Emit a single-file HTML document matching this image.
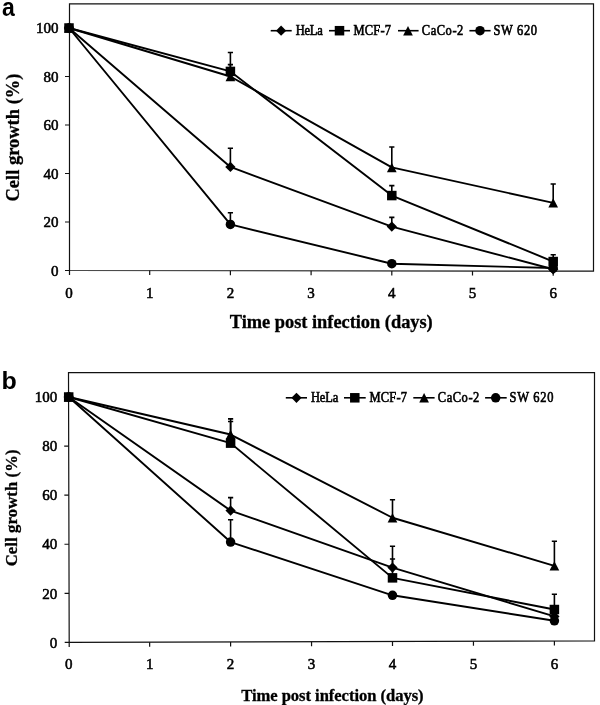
<!DOCTYPE html>
<html><head><meta charset="utf-8"><style>
html,body{margin:0;padding:0;background:#fff;}
body{width:600px;height:705px;overflow:hidden;}
svg{display:block;filter:grayscale(1);}
.t{font-family:"Liberation Serif",serif;stroke:#000;stroke-width:0.55px;}
.b{font-family:"Liberation Serif",serif;font-weight:bold;stroke:#000;stroke-width:0.3px;}
.s{font-family:"Liberation Sans",sans-serif;font-weight:bold;}
</style></head><body>
<svg width="600" height="705" viewBox="0 0 600 705">
<rect width="600" height="705" fill="#fff"/>
<g fill="#000">
<path d="M69.50 3.90L593.50 3.90L593.50 271.20L69.50 270.50Z" fill="none" stroke="#111" stroke-width="1.2" stroke-linejoin="miter"/>
<path d="M65.00 270.50H69.50M65.00 222.00H69.50M65.00 173.50H69.50M65.00 125.00H69.50M65.00 76.50H69.50M65.00 28.00H69.50M69.50 270.50V275.00M149.70 270.61V275.11M230.40 270.71V275.21M311.10 270.82V275.32M391.80 270.93V275.43M472.50 271.04V275.54M553.20 271.15V275.65" stroke="#111" stroke-width="1.2"/>
<text x="58.50" y="275.70" text-anchor="end" class="t" font-size="15">0</text>
<text x="58.50" y="227.20" text-anchor="end" class="t" font-size="15">20</text>
<text x="58.50" y="178.70" text-anchor="end" class="t" font-size="15">40</text>
<text x="58.50" y="130.20" text-anchor="end" class="t" font-size="15">60</text>
<text x="58.50" y="81.70" text-anchor="end" class="t" font-size="15">80</text>
<text x="58.50" y="33.20" text-anchor="end" class="t" font-size="15">100</text>
<text x="69.00" y="298.00" text-anchor="middle" class="t" font-size="15">0</text>
<text x="149.70" y="298.00" text-anchor="middle" class="t" font-size="15">1</text>
<text x="230.40" y="298.00" text-anchor="middle" class="t" font-size="15">2</text>
<text x="311.10" y="298.00" text-anchor="middle" class="t" font-size="15">3</text>
<text x="391.80" y="298.00" text-anchor="middle" class="t" font-size="15">4</text>
<text x="472.50" y="298.00" text-anchor="middle" class="t" font-size="15">5</text>
<text x="553.20" y="298.00" text-anchor="middle" class="t" font-size="15">6</text>
<text x="229.75" y="327.70" class="b" font-size="18.4" letter-spacing="-0.020">Time post infection (days)</text>
<text transform="translate(18.60 201.50) rotate(-90)" class="b" font-size="18.4" letter-spacing="0.036">Cell growth (%)</text>
<text transform="translate(1.9 16) scale(0.92 1)" class="s" font-size="25">a</text>
<path d="M69.00 28.00L230.40 166.95L391.80 226.61L553.20 269.29" fill="none" stroke="#000" stroke-width="1.9" stroke-linejoin="round"/>
<path d="M230.40 166.95V148.28M227.80 148.28H233.00M391.80 226.61V217.39M389.20 217.39H394.40" fill="none" stroke="#000" stroke-width="1.6"/>
<path d="M69.00 28.00L230.40 71.41L391.80 195.57L553.20 261.53" fill="none" stroke="#000" stroke-width="1.9" stroke-linejoin="round"/>
<path d="M230.40 71.41V52.49M227.80 52.49H233.00M391.80 195.57V185.62M389.20 185.62H394.40M553.20 261.53V254.74M550.60 254.74H555.80" fill="none" stroke="#000" stroke-width="1.6"/>
<path d="M69.00 28.00L230.40 76.50L391.80 167.44L553.20 202.84" fill="none" stroke="#000" stroke-width="1.9" stroke-linejoin="round"/>
<path d="M230.40 76.50V64.62M227.80 64.62H233.00M391.80 167.44V147.07M389.20 147.07H394.40M553.20 202.84V183.93M550.60 183.93H555.80" fill="none" stroke="#000" stroke-width="1.6"/>
<path d="M69.00 28.00L230.40 224.43L391.80 263.71L553.20 268.07" fill="none" stroke="#000" stroke-width="1.9" stroke-linejoin="round"/>
<path d="M230.40 224.43V212.78M227.80 212.78H233.00" fill="none" stroke="#000" stroke-width="1.6"/>
<path d="M69.00 22.87L74.13 28.00L69.00 33.13L63.87 28.00Z"/>
<path d="M230.40 161.82L235.53 166.95L230.40 172.08L225.27 166.95Z"/>
<path d="M391.80 221.48L396.93 226.61L391.80 231.74L386.67 226.61Z"/>
<path d="M553.20 264.16L558.33 269.29L553.20 274.42L548.07 269.29Z"/>
<rect x="64.25" y="23.25" width="9.50" height="9.50"/>
<rect x="225.65" y="66.66" width="9.50" height="9.50"/>
<rect x="387.05" y="190.82" width="9.50" height="9.50"/>
<rect x="548.45" y="256.78" width="9.50" height="9.50"/>
<path d="M69.00 23.30L73.85 32.70L64.15 32.70Z"/>
<path d="M230.40 71.80L235.25 81.20L225.55 81.20Z"/>
<path d="M391.80 162.74L396.65 172.14L386.95 172.14Z"/>
<path d="M553.20 198.14L558.05 207.54L548.35 207.54Z"/>
<circle cx="69.00" cy="28.00" r="4.75"/>
<circle cx="230.40" cy="224.43" r="4.75"/>
<circle cx="391.80" cy="263.71" r="4.75"/>
<circle cx="553.20" cy="268.07" r="4.75"/>
<path d="M270.70 30.70H291.70" stroke="#000" stroke-width="1.6"/>
<path d="M281.10 25.57L286.23 30.70L281.10 35.83L275.97 30.70Z"/>
<text transform="translate(295.70 35.00) scale(1 1.1)" class="t" font-size="12.5" letter-spacing="-0.250">HeLa</text>
<path d="M329.00 30.70H350.00" stroke="#000" stroke-width="1.6"/>
<rect x="334.75" y="25.95" width="9.50" height="9.50"/>
<text transform="translate(353.60 35.00) scale(1 1.1)" class="t" font-size="12.5" letter-spacing="0.162">MCF-7</text>
<path d="M398.00 30.70H418.60" stroke="#000" stroke-width="1.6"/>
<path d="M408.00 26.00L412.85 35.40L403.15 35.40Z"/>
<text transform="translate(421.75 35.00) scale(1 1.1)" class="t" font-size="12.5" letter-spacing="0.550">CaCo-2</text>
<path d="M469.40 30.70H490.60" stroke="#000" stroke-width="1.6"/>
<circle cx="480.00" cy="30.70" r="4.75"/>
<text transform="translate(493.50 35.00) scale(1 1.1)" class="t" font-size="12.5" letter-spacing="0.650">SW 620</text>
<path d="M68.50 372.60L594.50 372.60L594.50 640.90L69.20 642.40Z" fill="none" stroke="#111" stroke-width="1.2" stroke-linejoin="miter"/>
<path d="M64.70 642.40H69.20M64.57 593.32H69.07M64.45 544.24H68.95M64.32 495.16H68.82M64.19 446.08H68.69M64.06 397.00H68.56M69.20 642.40V646.90M149.65 642.17V646.67M230.60 641.94V646.44M311.55 641.71V646.21M392.50 641.48V645.98M473.45 641.25V645.75M554.40 641.01V645.51" stroke="#111" stroke-width="1.2"/>
<text x="57.30" y="647.60" text-anchor="end" class="t" font-size="15">0</text>
<text x="57.30" y="598.52" text-anchor="end" class="t" font-size="15">20</text>
<text x="57.30" y="549.44" text-anchor="end" class="t" font-size="15">40</text>
<text x="57.30" y="500.36" text-anchor="end" class="t" font-size="15">60</text>
<text x="57.30" y="451.28" text-anchor="end" class="t" font-size="15">80</text>
<text x="57.30" y="402.20" text-anchor="end" class="t" font-size="15">100</text>
<text x="68.70" y="669.30" text-anchor="middle" class="t" font-size="15">0</text>
<text x="149.65" y="669.30" text-anchor="middle" class="t" font-size="15">1</text>
<text x="230.60" y="669.30" text-anchor="middle" class="t" font-size="15">2</text>
<text x="311.55" y="669.30" text-anchor="middle" class="t" font-size="15">3</text>
<text x="392.50" y="669.30" text-anchor="middle" class="t" font-size="15">4</text>
<text x="473.45" y="669.30" text-anchor="middle" class="t" font-size="15">5</text>
<text x="554.40" y="669.30" text-anchor="middle" class="t" font-size="15">6</text>
<text x="241.20" y="700.50" class="b" font-size="16.6" letter-spacing="-0.048">Time post infection (days)</text>
<text transform="translate(17.10 566.25) rotate(-90)" class="b" font-size="16.6" letter-spacing="0.125">Cell growth (%)</text>
<text transform="translate(1.5 389.4) scale(1 0.965)" class="s" font-size="25">b</text>
<path d="M68.70 397.00L230.60 510.62L392.50 567.55L554.40 616.39" fill="none" stroke="#000" stroke-width="1.9" stroke-linejoin="round"/>
<path d="M230.60 510.62V497.61M228.00 497.61H233.20M392.50 567.55V546.20M389.90 546.20H395.10" fill="none" stroke="#000" stroke-width="1.6"/>
<path d="M68.70 397.00L230.60 443.14L392.50 577.86L554.40 609.52" fill="none" stroke="#000" stroke-width="1.9" stroke-linejoin="round"/>
<path d="M230.60 443.14V418.84M228.00 418.84H233.20M392.50 577.86V558.96M389.90 558.96H395.10M554.40 609.52V594.30M551.80 594.30H557.00" fill="none" stroke="#000" stroke-width="1.6"/>
<path d="M68.70 397.00L230.60 434.55L392.50 517.74L554.40 565.84" fill="none" stroke="#000" stroke-width="1.9" stroke-linejoin="round"/>
<path d="M230.60 434.55V421.54M228.00 421.54H233.20M392.50 517.74V499.82M389.90 499.82H395.10M554.40 565.84V541.30M551.80 541.30H557.00" fill="none" stroke="#000" stroke-width="1.6"/>
<path d="M68.70 397.00L230.60 542.03L392.50 595.28L554.40 620.80" fill="none" stroke="#000" stroke-width="1.9" stroke-linejoin="round"/>
<path d="M230.60 542.03V519.70M228.00 519.70H233.20" fill="none" stroke="#000" stroke-width="1.6"/>
<path d="M68.70 391.87L73.83 397.00L68.70 402.13L63.57 397.00Z"/>
<path d="M230.60 505.49L235.73 510.62L230.60 515.75L225.47 510.62Z"/>
<path d="M392.50 562.42L397.63 567.55L392.50 572.68L387.37 567.55Z"/>
<path d="M554.40 611.26L559.53 616.39L554.40 621.52L549.27 616.39Z"/>
<rect x="63.95" y="392.25" width="9.50" height="9.50"/>
<rect x="225.85" y="438.39" width="9.50" height="9.50"/>
<rect x="387.75" y="573.11" width="9.50" height="9.50"/>
<rect x="549.65" y="604.77" width="9.50" height="9.50"/>
<path d="M68.70 392.30L73.55 401.70L63.85 401.70Z"/>
<path d="M230.60 429.85L235.45 439.25L225.75 439.25Z"/>
<path d="M392.50 513.04L397.35 522.44L387.65 522.44Z"/>
<path d="M554.40 561.14L559.25 570.54L549.55 570.54Z"/>
<circle cx="68.70" cy="397.00" r="4.75"/>
<circle cx="230.60" cy="542.03" r="4.75"/>
<circle cx="392.50" cy="595.28" r="4.75"/>
<circle cx="554.40" cy="620.80" r="4.75"/>
<path d="M285.80 397.80H307.00" stroke="#000" stroke-width="1.6"/>
<path d="M296.50 392.67L301.63 397.80L296.50 402.93L291.37 397.80Z"/>
<text transform="translate(311.00 402.10) scale(1 1.1)" class="t" font-size="12.5" letter-spacing="-0.150">HeLa</text>
<path d="M344.00 397.80H365.70" stroke="#000" stroke-width="1.6"/>
<rect x="350.05" y="393.05" width="9.50" height="9.50"/>
<text transform="translate(369.40 402.10) scale(1 1.1)" class="t" font-size="12.5" letter-spacing="0.213">MCF-7</text>
<path d="M413.30 397.80H434.60" stroke="#000" stroke-width="1.6"/>
<path d="M424.10 393.10L428.95 402.50L419.25 402.50Z"/>
<text transform="translate(437.75 402.10) scale(1 1.1)" class="t" font-size="12.5" letter-spacing="0.550">CaCo-2</text>
<path d="M485.10 397.80H506.70" stroke="#000" stroke-width="1.6"/>
<circle cx="495.70" cy="397.80" r="4.75"/>
<text transform="translate(509.50 402.10) scale(1 1.1)" class="t" font-size="12.5" letter-spacing="0.710">SW 620</text>
</g>
</svg>
</body></html>
